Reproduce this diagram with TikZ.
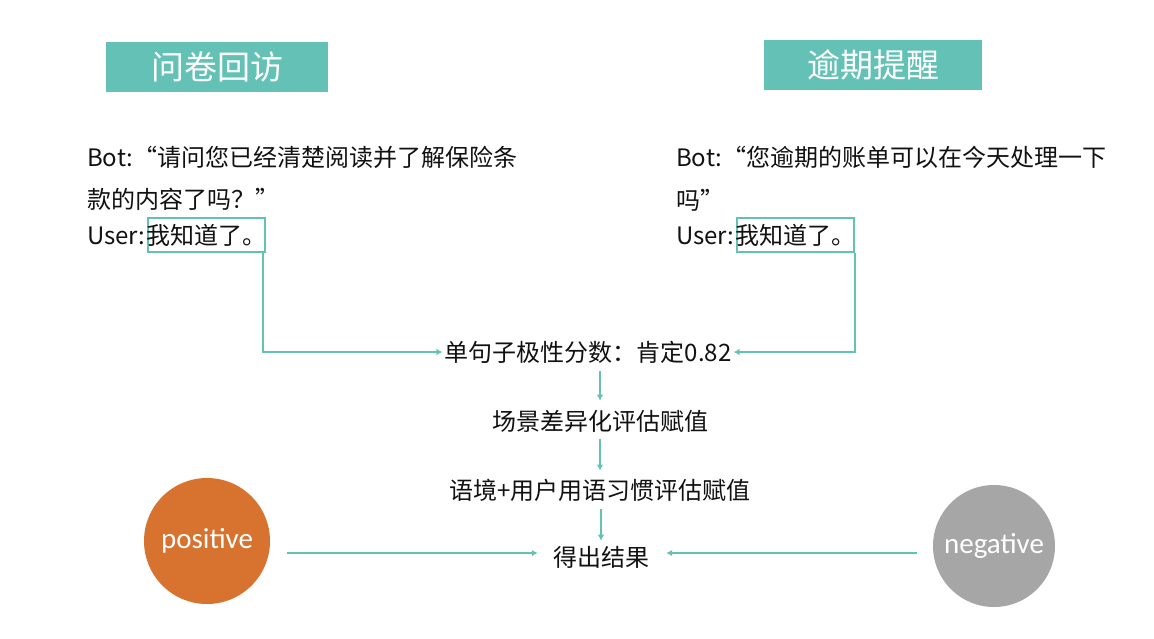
\documentclass[tikz,border=0pt]{standalone}
\usepackage{fontspec}
\setmainfont{Noto Sans CJK SC}
\newfontfamily\circfont{Carlito}
\usetikzlibrary{arrows.meta}
\definecolor{teal1}{HTML}{63C2B5}
\definecolor{orange1}{HTML}{D8722F}
\definecolor{gray1}{HTML}{A6A6A6}
\definecolor{ink}{HTML}{111111}
\tikzset{
  titlebox/.style={fill=teal1, text=white, font=\fontsize{33}{33}\selectfont, inner sep=0pt},
  txt/.style={text=ink, font=\fontsize{24}{24}\selectfont, inner sep=0pt},
  ansbox/.style={txt, draw=teal1, line width=1.8pt, inner xsep=-1.5pt, inner ysep=6pt},
  conn/.style={draw=teal1, line width=1.8pt},
  arr/.style={conn, -{Latex[length=6pt,width=6.5pt]}},
  circ/.style={circle, text=white, font=\circfont\fontsize{29}{29}\selectfont, inner sep=0pt}
}
\begin{document}
\begin{tikzpicture}[x=1pt,y=-1pt]
\useasboundingbox (0,0) rectangle (1154,638);
% titles
\node[titlebox, minimum width=222pt, minimum height=50pt] (t1) at (217,67) {问卷回访};
\node[titlebox, minimum width=218pt, minimum height=50pt] (t2) at (873,65) {逾期提醒};
% left dialogue
\node[txt, anchor=base west] (l1) at (87,166) {Bot:“请问您已经清楚阅读并了解保险条};
\node[txt, anchor=base west] (l2) at (87,208) {款的内容了吗？”};
\node[txt, anchor=base west] (l3) at (87,244) {User:};
\node[ansbox, anchor=base west] (lb) at ([xshift=1pt]l3.base east) {我知道了。};
% right dialogue
\node[txt, anchor=base west] (r1) at (676,166) {Bot:“您逾期的账单可以在今天处理一下};
\node[txt, anchor=base west] (r2) at (676,209) {吗”};
\node[txt, anchor=base west] (r3) at (676,244) {User:};
\node[ansbox, anchor=base west] (rb) at ([xshift=1pt]r3.base east) {我知道了。};
% middle flow
\node[txt] (m1) at (588,352) {单句子极性分数：肯定0.82};
\node[txt] (m2) at (600,421) {场景差异化评估赋值};
\node[txt] (m3) at (600,490) {语境+用户用语习惯评估赋值};
\node[txt] (m4) at (601,557) {得出结果};
% circles
\node[circ, fill=orange1, minimum size=126pt] (pos) at (207,541) {positive};
\node[circ, fill=gray1, minimum size=122pt] (neg) at (994,546) {negative};
% connectors
\draw[arr] ([xshift=-3pt]lb.south east) |- ([xshift=-2pt]m1.west);
\draw[arr] (rb.south east) |- ([xshift=2pt]m1.east);
\draw[arr] ([yshift=-8pt]m1.south -| m2.north) -- ([yshift=9pt]m2.north);
\draw[arr] ([yshift=-7pt]m2.south) -- ([yshift=8pt]m3.north);
\draw[arr] ([yshift=-8pt]m3.south -| m4.north) -- ([yshift=5pt]m4.north);
\coordinate (pa) at (287,553);
\coordinate (na) at (917,553);
\draw[arr] (pa) -- ([xshift=-15pt]pa -| m4.west);
\draw[arr] (na) -- ([xshift=17pt]na -| m4.east);
\end{tikzpicture}
\end{document}
